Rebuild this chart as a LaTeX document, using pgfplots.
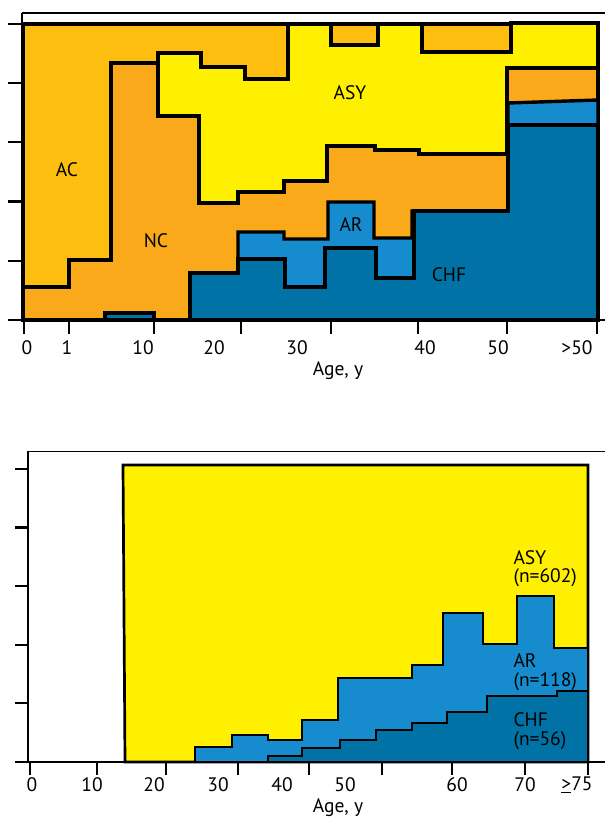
\documentclass[border=0pt]{standalone}
\usepackage{pgfplots}
\pgfplotsset{compat=1.18}
\usepackage{fontspec}
\setmainfont{PT Sans}
\definecolor{acc}{RGB}{253,190,16}
\definecolor{ncc}{RGB}{249,169,26}
\definecolor{asyc}{RGB}{255,240,0}
\definecolor{arc}{RGB}{22,139,205}
\definecolor{chfc}{RGB}{0,114,166}
\newcommand\fs{\fontsize{19.5}{23}\selectfont}
\pgfplotsset{
  frame/.style={
    anchor=south west, scale only axis, clip=false,
    axis x line*=box, axis y line*=left, tick pos=left,
    axis line style={line width=1.6pt},
    tick align=outside, tick style={line width=2.2pt, black},
    xticklabels={}, yticklabels={},
    ytick={0,20,40,60,80,100},
    tick label style={font=\fs},
    extra x tick style={major tick length=0pt, tick style={draw=none}},
    no markers,
  },
  reg/.style={draw=black, line width=3.4pt, line join=miter},
  regb/.style={draw=black, line width=2.7pt, line join=miter},
}
\begin{document}
\begin{tikzpicture}[x=1pt,y=1pt]
\useasboundingbox (0,0) rectangle (605,818);
% ---------------- top chart ----------------
\begin{axis}[frame, at={(22pt,498pt)}, width=583pt, height=307pt,
  xmin=22, xmax=605, ymin=0, ymax=103.72,
  major tick length=14pt,
  xtick={24,69,154,241,331,418,507,597},
  extra x ticks={27,67,143,214,297,425,498,577},
  extra x tick labels={0,1,10,20,30,40,50,{>50}},
  extra x tick style={xticklabel style={anchor=center, yshift=-28pt}},
]
% AC (background)
\addplot[reg, fill=acc] coordinates {(23,0) (23,100) (598,100) (598,0)} -- cycle;
% ASY
\addplot[reg, fill=asyc] coordinates {(23,0) (23,11.15) (69,11.15) (69,20.27) (111,20.27) (111,86.82) (158,86.82) (158,90.20) (201,90.20) (201,85.47) (245,85.47) (245,81.42) (288,81.42) (288,100) (331,100) (331,92.91) (378,92.91) (378,100) (422,100) (422,90.54) (511,90.54) (511,100.34) (598,100.34) (598,0)} -- cycle;
% NC
\addplot[reg, fill=ncc] coordinates {(23,0) (23,11.15) (69,11.15) (69,20.27) (111,20.27) (111,86.82) (158,86.82) (158,68.92) (199,68.92) (199,39.53) (238,39.53) (238,43.24) (284,43.24) (284,46.96) (327,46.96) (327,58.78) (375,58.78) (375,57.43) (419,57.43) (419,56.08) (507,56.08) (507,85.14) (598,85.14) (598,0)} -- cycle;
% AR
\addplot[reg, fill=arc] coordinates {(238,0) (238,29.73) (284,29.73) (284,27.36) (328,27.36) (328,39.86) (374,39.86) (374,27.70) (412,27.70) (412,36.82) (508,36.82) (508,73.31) (598,74.32) (598,0)} -- cycle;
% CHF
\addplot[reg, fill=chfc] coordinates {(190,0) (190,15.88) (238,15.88) (238,20.61) (285,20.61) (285,11.15) (325,11.15) (325,24.32) (376,24.32) (376,14.19) (414,14.19) (414,36.82) (508,36.82) (508,65.88) (598,65.88) (598,0)} -- cycle;
\addplot[reg, fill=chfc] coordinates {(105,0) (105,2.36) (154,2.36) (154,0)} -- cycle;
\node[font=\fs] at (axis cs:67,50.68) {AC};
\node[font=\fs] at (axis cs:156,26.69) {NC};
\node[font=\fs] at (axis cs:350,76.69) {ASY};
\node[font=\fs] at (axis cs:351,32.09) {AR};
\node[font=\fs] at (axis cs:449,15.20) {CHF};
\node[font=\fs] at (axis cs:338,-17.23) {Age, y};
\end{axis}
% ---------------- bottom chart ----------------
\begin{axis}[frame, at={(28pt,56pt)}, width=577pt, height=310.6pt,
  xmin=28, xmax=605, ymin=0, ymax=106.0,
  major tick length=13pt,
  xtick={30,97,166,238,309,382,452,525,588},
  extra x ticks={32,92,154,218,282,345,457,525,577},
  extra x tick labels={0,10,20,30,40,50,60,70,{\underline{>}75}},
  extra x tick style={xticklabel style={anchor=center, yshift=-23pt}},
]
% ASY
\addplot[regb, fill=asyc] coordinates {(125,0) (123,101.37) (588,101.37) (588,0)} -- cycle;
% AR
\addplot[regb, fill=arc] coordinates {(195,0) (195,5.12) (232,5.12) (232,9.22) (268,9.22) (268,7.51) (302,7.51) (302,14.33) (338,14.33) (338,28.67) (412,28.67) (412,33.11) (443,33.11) (443,50.85) (483,50.85) (483,40.27) (517,40.27) (517,56.66) (554,56.66) (554,38.91) (588,38.91) (588,0)} -- cycle;
% CHF
\addplot[regb, fill=chfc] coordinates {(268,0) (268,2.05) (302,2.05) (302,4.78) (340,4.78) (340,7.51) (376,7.51) (376,10.92) (412,10.92) (412,13.31) (447,13.31) (447,17.06) (487,17.06) (487,22.53) (557,22.53) (557,24.23) (588,24.23) (588,0)} -- cycle;
\node[font=\fs, anchor=west] at (axis cs:510,69.62) {ASY};
\node[font=\fs, anchor=west] at (axis cs:510,62.80) {(n=602)};
\node[font=\fs, anchor=west] at (axis cs:510,34.47) {AR};
\node[font=\fs, anchor=west] at (axis cs:510,27.30) {(n=118)};
\node[font=\fs, anchor=west] at (axis cs:510,14.33) {CHF};
\node[font=\fs, anchor=west] at (axis cs:510,7.17) {(n=56)};
\node[font=\fs] at (axis cs:338,-15.7) {Age, y};
\end{axis}
\end{tikzpicture}
\end{document}
